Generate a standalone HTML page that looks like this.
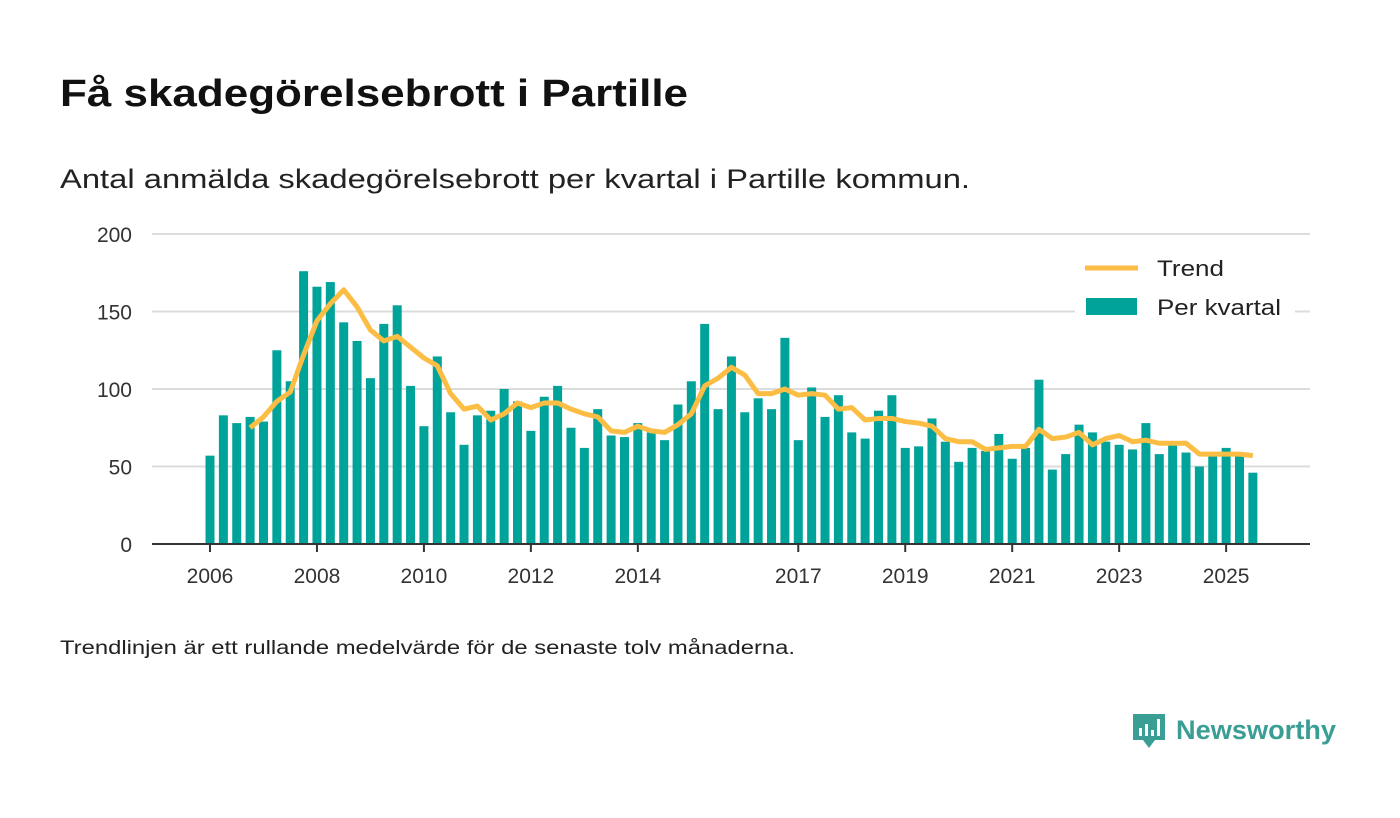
<!DOCTYPE html>
<html><head><meta charset="utf-8"><style>
body{margin:0;width:1400px;height:813px;background:#fff;font-family:"Liberation Sans","DejaVu Sans",sans-serif;overflow:hidden}
</style></head><body>
<svg width="1400" height="813">
<text x="60" y="106" font-size="38" font-weight="bold" fill="#111" textLength="628" lengthAdjust="spacingAndGlyphs">Få skadegörelsebrott i Partille</text>
<text x="60" y="188" font-size="27" fill="#222" textLength="910" lengthAdjust="spacingAndGlyphs">Antal anmälda skadegörelsebrott per kvartal i Partille kommun.</text>
<g id="grid"></g><g id="bars"></g><g id="trend"></g><g id="xaxis"></g>
<g>
<rect x="1075" y="250" width="220" height="76" fill="#fff"/>
<line x1="1085" y1="268" x2="1138" y2="268" stroke="#fbbd44" stroke-width="5"/>
<text x="1157" y="276" font-size="22" fill="#222" textLength="67" lengthAdjust="spacingAndGlyphs">Trend</text>
<rect x="1086" y="298" width="51" height="17" fill="#00a39a"/>
<text x="1157" y="315" font-size="22" fill="#222" textLength="124" lengthAdjust="spacingAndGlyphs">Per kvartal</text>
</g>
<text x="60" y="654" font-size="19" fill="#222" textLength="735" lengthAdjust="spacingAndGlyphs">Trendlinjen är ett rullande medelvärde för de senaste tolv månaderna.</text>
<g>
<path d="M1133 714h32v26h-10l-6 8-6-8h-10z" fill="#3a9e94"/>
<rect x="1139" y="728" width="3" height="8" fill="#fff"/><rect x="1145" y="724" width="3" height="12" fill="#fff"/><rect x="1151" y="730" width="3" height="6" fill="#fff"/><rect x="1157" y="719" width="3" height="17" fill="#fff"/>
<text x="1176" y="739" font-size="27" font-weight="bold" fill="#3a9e94" textLength="160" lengthAdjust="spacingAndGlyphs">Newsworthy</text>
</g>
</svg>
<script>
const values=[57,83,78,82,79,125,105,176,166,169,143,131,107,142,154,102,76,121,85,64,83,86,100,92,73,95,102,75,62,87,70,69,78,72,67,90,105,142,87,121,85,94,87,133,67,101,82,96,72,68,86,96,62,63,81,66,53,62,60,71,55,62,106,48,58,77,72,66,64,61,78,58,65,59,50,58,62,58,46];
const trend=[null,null,null,75,82,92,98,122,144,155,164,153,138,131,134,127,120,115,97,87,89,80,84,91,88,91,91,87,84,82,73,72,76,73,72,77,84,102,107,114,109,97,97,100,96,97,96,87,88,80,81,81,79,78,76,68,66,66,61,62,63,63,74,68,69,72,64,68,70,66,67,65,65,65,58,58,58,58,57];
const yTicks=[0,50,100,150,200];
const xTickLabels=["2006","2008","2010","2012","2014","2017","2019","2021","2023","2025"];
const startYear=2006;
const NS="http://www.w3.org/2000/svg";
const X=i=>210+i*13.37, Y=v=>544-v*1.55;
function mk(t,a,p){const e=document.createElementNS(NS,t);for(const k in a)e.setAttribute(k,a[k]);p.appendChild(e);return e;}
const g=document.getElementById('grid');
yTicks.forEach(v=>{
 if(v>0){const l=mk('line',{x1:152,x2:1310,y1:Y(v),y2:Y(v),stroke:'#dcdcdc','stroke-width':2},g);
 
 }
 const t=mk('text',{x:132,y:Y(v)+8,'text-anchor':'end','font-size':21,fill:'#333'},g);t.textContent=v;
 
 
});
const b=document.getElementById('bars');
values.forEach((v,i)=>{const r=mk('rect',{x:X(i)-4.5,y:Y(v),width:9,height:v*1.55,fill:'#00a39a'},b);
 
 });
let d='';trend.forEach((v,i)=>{if(v!=null)d+=(d?'L':'M')+X(i)+' '+Y(v);});
const p=mk('path',{d:d,fill:'none',stroke:'#fbbd44','stroke-width':5,'stroke-linejoin':'round'},document.getElementById('trend'));


const xa=document.getElementById('xaxis');
const ax=mk('line',{x1:152,x2:1310,y1:544,y2:544,stroke:'#333','stroke-width':2},xa);


xTickLabels.forEach(s=>{const x=X((+s-startYear)*4);
 mk('line',{x1:x,x2:x,y1:544,y2:552,stroke:'#333','stroke-width':2},xa);
 const t=mk('text',{x:x,y:583,'text-anchor':'middle','font-size':21,fill:'#333'},xa);t.textContent=s;
 
 });
</script>
</body></html>
